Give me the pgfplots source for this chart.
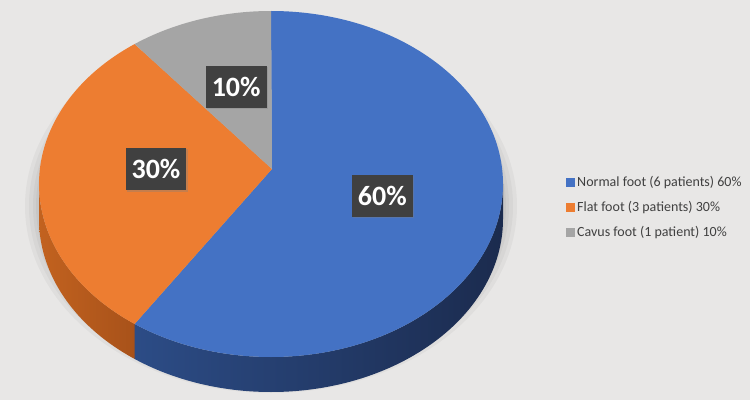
\documentclass[border=0pt]{standalone}
\usepackage{fontspec}
\setmainfont{Carlito}
\usepackage{pgfplots}
\pgfplotsset{compat=1.18}
\usepackage{pgfplotstable}
\usetikzlibrary{calc,shadows}

\definecolor{bg}{HTML}{E8E7E6}
\definecolor{pieblue}{HTML}{4472C4}
\definecolor{pieorange}{HTML}{ED7D31}
\definecolor{piegray}{HTML}{A5A5A5}
\definecolor{blueside}{HTML}{2C4C86}
\definecolor{bluesidedark}{HTML}{1B2B4E}
\definecolor{orangeside}{HTML}{C2621F}
\definecolor{orangesidedark}{HTML}{A8521A}
\definecolor{labelbox}{HTML}{404040}
\definecolor{legtext}{HTML}{404040}

\tikzset{lbl/.style={fill=labelbox, text=white, font=\fontsize{28}{30}\bfseries\selectfont,
    inner xsep=6pt, minimum height=42pt,
    drop shadow={opacity=0.35, shadow xshift=1.5pt, shadow yshift=-1.5pt}}}

% share of patients, in percent (normal, flat, cavus)
\pgfplotstableread{
idx value
0 60
1 30
2 10
}\pietable

\begin{document}
\begin{tikzpicture}
\path[use as bounding box, fill=bg] (0,0) rectangle (750pt,400pt);

\pgfplotstablegetelem{0}{value}\of\pietable \let\vA\pgfplotsretval
\pgfplotstablegetelem{1}{value}\of\pietable \let\vB\pgfplotsretval
\pgfplotstablegetelem{2}{value}\of\pietable \let\vC\pgfplotsretval
% slice angles, clockwise from 12 o'clock
\pgfmathsetmacro\aA{90}
\pgfmathsetmacro\aB{\aA-3.6*\vA}
\pgfmathsetmacro\aC{\aB-3.6*\vB}
\pgfmathsetmacro\aD{\aC-3.6*\vC}
\pgfmathsetmacro\aCv{max(\aC,-180)}
\pgfmathsetmacro\mA{(\aA+\aB)/2}
\pgfmathsetmacro\mB{(\aB+\aC)/2}
\pgfmathsetmacro\mC{(\aC+\aD)/2}
\def\rx{232}\def\ry{173}\def\dep{35}
\pgfmathsetmacro\hrx{0.5*\rx}
\pgfmathsetmacro\hry{0.5*\ry}

\begin{axis}[
    at={(0,0)}, anchor=south west,
    scale only axis, width=750pt, height=400pt,
    xmin=0, xmax=750, ymin=0, ymax=400,
    hide axis, clip=false,
    legend style={at={(axis cs:563,228)}, anchor=north west, draw=none, fill=none,
        font=\fontsize{14}{16}\selectfont, text=legtext, row sep=9.5pt},
    legend cell align=left,
    legend image code/.code={\fill[#1] (0pt,-4.5pt) rectangle (9pt,4.5pt);},
]
\coordinate (C) at (axis cs:271,216);
\coordinate (A) at (axis cs:272,231);

% soft shadow under the pie
\fill[black, opacity=0.035] ($(C)+(0,-22pt)$) ellipse[x radius=\rx pt+14pt, y radius=\ry pt+14pt];
\fill[black, opacity=0.035] ($(C)+(0,-22pt)$) ellipse[x radius=\rx pt+10pt, y radius=\ry pt+10pt];
\fill[black, opacity=0.035] ($(C)+(0,-22pt)$) ellipse[x radius=\rx pt+6pt, y radius=\ry pt+6pt];
\fill[black, opacity=0.035] ($(C)+(0,-22pt)$) ellipse[x radius=\rx pt+3pt, y radius=\ry pt+3pt];
\fill[black, opacity=0.035] ($(C)+(0,-22pt)$) ellipse[x radius=\rx pt, y radius=\ry pt];

% sides
\shade[left color=blueside, right color=bluesidedark]
  ($(C)+(\aB:\rx pt and \ry pt)$) arc[start angle=\aB, end angle=0, x radius=\rx pt, y radius=\ry pt]
  -- ++(0,-\dep pt) arc[start angle=0, end angle=\aB, x radius=\rx pt, y radius=\ry pt] -- cycle;
\shade[left color=orangeside, right color=orangesidedark]
  ($(C)+(\aCv:\rx pt and \ry pt)$) arc[start angle=\aCv, end angle=\aB, x radius=\rx pt, y radius=\ry pt]
  -- ++(0,-\dep pt) arc[start angle=\aB, end angle=\aCv, x radius=\rx pt, y radius=\ry pt] -- cycle;

% tops
\fill[pieblue] (A) -- ($(C)+(\aA:\rx pt and \ry pt)$)
  arc[start angle=\aA, end angle=\aB, x radius=\rx pt, y radius=\ry pt] -- cycle;
\fill[pieorange] (A) -- ($(C)+(\aB:\rx pt and \ry pt)$)
  arc[start angle=\aB, end angle=\aC, x radius=\rx pt, y radius=\ry pt] -- cycle;
\fill[piegray] (A) -- ($(C)+(\aC:\rx pt and \ry pt)$)
  arc[start angle=\aC, end angle=\aD, x radius=\rx pt, y radius=\ry pt] -- cycle;

% data labels
\node[lbl] at ($(A)+(\mA:\hrx pt and \hry pt)$) {\vA\%};
\node[lbl] at ($(A)+(\mB:\hrx pt and \hry pt)$) {\vB\%};
\node[lbl] at ($(A)+(\mC:\hrx pt and \hry pt)$) {\vC\%};

\addlegendimage{fill=pieblue, draw=none}
\addlegendentry{Normal foot (6 patients) 60\%}
\addlegendimage{fill=pieorange, draw=none}
\addlegendentry{Flat foot (3 patients) 30\%}
\addlegendimage{fill=piegray, draw=none}
\addlegendentry{Cavus foot (1 patient) 10\%}
\end{axis}
\end{tikzpicture}
\end{document}
